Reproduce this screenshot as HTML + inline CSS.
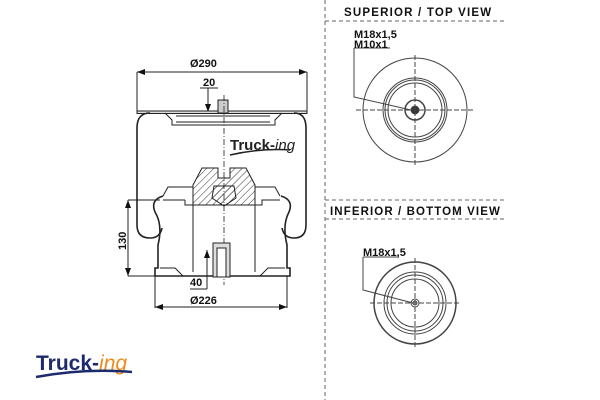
<!DOCTYPE html>
<html><head><meta charset="utf-8"><style>
body{margin:0;background:#fff;width:600px;height:400px;overflow:hidden}
svg{display:block}
text{font-family:"Liberation Sans",sans-serif;font-weight:bold;fill:#111}
</style></head><body>
<svg width="600" height="400" viewBox="0 0 600 400">
<defs>
<pattern id="h" width="5" height="5" patternUnits="userSpaceOnUse" patternTransform="rotate(45)">
<line x1="0" y1="0" x2="0" y2="5" stroke="#333" stroke-width="1"/></pattern>
<marker id="a" markerWidth="8" markerHeight="6" refX="8" refY="3" orient="auto"><path d="M0,0 L8,3 L0,6z" fill="#111"/></marker>
</defs>
<g fill="none" stroke="#222" stroke-width="1">
<line x1="137" y1="72" x2="137" y2="112"/><line x1="307" y1="72" x2="307" y2="112"/>
<line x1="172" y1="72" x2="137" y2="72" marker-end="url(#a)"/><line x1="272" y1="72" x2="307" y2="72" marker-end="url(#a)"/>
<line x1="172" y1="72" x2="272" y2="72"/>
<line x1="200" y1="88" x2="218" y2="88"/><line x1="208" y1="88" x2="208" y2="112" marker-end="url(#a)"/>
<rect x="137" y="111" width="170" height="2.5" fill="#ddd"/>
<path d="M165,113 L172,120 L172,125 L275,125 L275,120 L282,113"/>
<path d="M176,116 H270 M176,122 H270"/>
<rect x="218" y="100" width="10" height="13" fill="#ccc"/>
<path d="M150,113 Q137,113 137,128 L137,225 Q137,238 150,238 Q160,238 162,228" stroke-width="1.6"/>
<path d="M294,113 Q306,113 306,128 L306,225 Q306,238 294,238 Q284,238 282,228" stroke-width="1.6"/>
<line x1="224" y1="95" x2="224" y2="285" stroke-dasharray="6,2,1,2" stroke-width="0.8"/>
<path d="M163,196 L168,187 L193,187 L193,200 M280,196 L275,187 L255,187 L255,200"/>
<path d="M185,200 L185,205 L262,205 L262,200 L280,200 M163,200 L185,200"/>
<path d="M163,196 Q150,200 155,212 Q163,225 158,245 L158,268 L155,268 L155,276 L290,276 L290,268 L287,268 L287,245 Q282,225 289,212 Q294,200 281,196" stroke-width="1.6"/>
<path d="M193,205 L193,272 M255,205 L255,272"/>
<path d="M160,268 L175,268 L183,276 M285,268 L268,268 L260,276"/>
<path d="M202,168 L218,168 L218,178 L230,178 L230,168 L246,168 L255,185 L255,205 L193,205 L193,185 Z" fill="url(#h)"/>
<path d="M214,186 L234,186 L236,198 L224,206 L212,198 Z" fill="url(#h)"/>
<rect x="213" y="243" width="17" height="34" fill="#ddd"/>
<rect x="217" y="248" width="9" height="29" fill="#fff"/>
<line x1="207" y1="289" x2="207" y2="250" marker-end="url(#a)"/>
<line x1="190" y1="289" x2="207" y2="289"/>
<line x1="128" y1="200" x2="160" y2="200"/><line x1="128" y1="276" x2="155" y2="276"/>
<line x1="128" y1="230" x2="128" y2="200" marker-end="url(#a)"/><line x1="128" y1="245" x2="128" y2="276" marker-end="url(#a)"/>
<line x1="128" y1="230" x2="128" y2="245"/>
<line x1="155" y1="276" x2="155" y2="308"/><line x1="287" y1="276" x2="287" y2="308"/>
<line x1="200" y1="307" x2="155" y2="307" marker-end="url(#a)"/><line x1="240" y1="307" x2="287" y2="307" marker-end="url(#a)"/>
<line x1="200" y1="307" x2="240" y2="307"/>
<g stroke="#666" stroke-dasharray="4,3">
<line x1="325" y1="0" x2="325" y2="400"/>
<line x1="325" y1="21" x2="505" y2="21"/>
<line x1="325" y1="200" x2="505" y2="200"/>
<line x1="325" y1="219" x2="505" y2="219"/>
</g>
<g stroke="#444">
<circle cx="415" cy="110" r="52"/>
<circle cx="415" cy="110" r="32"/><circle cx="415" cy="110" r="30"/><circle cx="415" cy="110" r="27"/>
<circle cx="415" cy="110" r="10" stroke-width="1.5"/>
<circle cx="415" cy="110" r="4" fill="#333"/>
<line x1="356" y1="110" x2="474" y2="110" stroke-dasharray="5,2"/>
<line x1="415" y1="55" x2="415" y2="165" stroke-dasharray="5,2"/>
<path d="M354,48 L354,97 L411,110"/>
<line x1="354" y1="48" x2="390" y2="48"/>
<circle cx="415" cy="303" r="41" stroke-width="1.5"/>
<circle cx="415" cy="303" r="31"/><circle cx="415" cy="303" r="28"/><circle cx="415" cy="303" r="24"/>
<circle cx="415" cy="303" r="4"/><circle cx="415" cy="303" r="2"/>
<line x1="370" y1="303" x2="460" y2="303" stroke-dasharray="5,2"/>
<line x1="415" y1="258" x2="415" y2="348" stroke-dasharray="5,2"/>
<path d="M363,257 L363,290 L413,303"/>
<line x1="363" y1="257" x2="398" y2="257"/>
</g>
</g>
<text x="203" y="86" font-size="11">20</text>
<text x="190" y="67" font-size="11">Ø290</text>
<text x="190" y="304" font-size="11">Ø226</text>
<text x="190" y="286" font-size="11">40</text>
<text x="0" y="0" font-size="11" transform="translate(126,250) rotate(-90)">130</text>
<text x="344" y="16" font-size="11.5" letter-spacing="1.2">SUPERIOR / TOP  VIEW</text>
<text x="330" y="215" font-size="11.5" letter-spacing="1.1">INFERIOR / BOTTOM  VIEW</text>
<text x="354" y="38" font-size="11">M18x1,5</text>
<text x="354" y="48" font-size="11">M10x1</text>
<text x="363" y="256" font-size="11">M18x1,5</text>
<text x="230" y="150" font-size="15" style="fill:#222">Truck-<tspan font-style="italic" font-weight="normal">ing</tspan></text>
<path d="M230,155 Q260,148 290,150" stroke="#222" fill="none" stroke-width="1.5"/>
<text x="36" y="370" font-size="21" style="fill:#1d2a6b">Truck-<tspan font-style="italic" font-weight="normal" style="fill:#f08a1c">ing</tspan></text>
<path d="M36,377 Q85,368 132,372" stroke="#1d2a6b" fill="none" stroke-width="2.5"/>
</svg>
</body></html>
